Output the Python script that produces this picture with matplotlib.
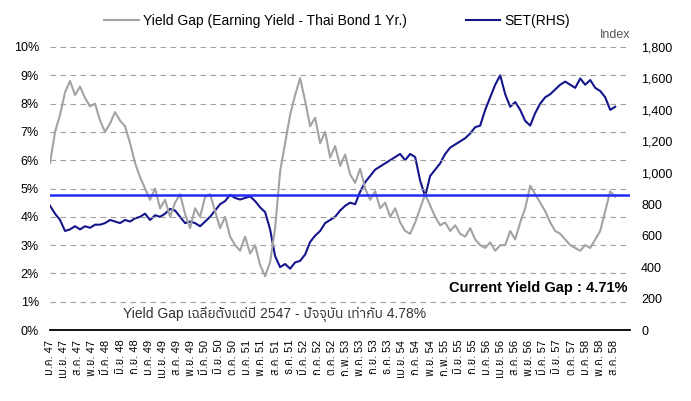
import numpy as np
import matplotlib
import matplotlib.pyplot as plt
from matplotlib import font_manager
from matplotlib.ft2font import FT2Font

# look for any installed font that has Thai glyphs
thai_fonts = []
for f in font_manager.fontManager.ttflist:
    try:
        if 0x0E01 in FT2Font(f.fname).get_charmap():
            thai_fonts.append(f.name)
    except Exception:
        pass
fams = ['Liberation Sans'] + sorted(set(thai_fonts)) + ['DejaVu Sans']
plt.rcParams['font.family'] = fams

#%% data (x = months since Jan 2004, one sample every ~1.24 months)
step = 1.2376
yield_gap = [5.9, 7.0, 7.6, 8.4, 8.8, 8.3, 8.6, 8.2, 7.9, 8.0,
             7.4, 7.0, 7.3, 7.7, 7.4, 7.2, 6.6, 5.9, 5.4, 5.0,
             4.6, 5.0, 4.3, 4.6, 4.0, 4.5, 4.8, 4.1, 3.6, 4.3,
             4.0, 4.7, 4.8, 4.2, 3.6, 4.0, 3.3, 3.0, 2.8, 3.3,
             2.7, 3.0, 2.3, 1.9, 2.4, 3.6, 5.6, 6.6, 7.6, 8.3,
             8.9, 8.1, 7.2, 7.5, 6.6, 7.0, 6.1, 6.5, 5.8, 6.2,
             5.5, 5.2, 5.7, 5.0, 4.6, 4.9, 4.3, 4.5, 4.0, 4.3,
             3.8, 3.5, 3.4, 3.8, 4.3, 4.8, 4.4, 4.0, 3.7, 3.8,
             3.5, 3.7, 3.4, 3.3, 3.6, 3.2, 3.0, 2.9, 3.1, 2.8,
             3.0, 3.0, 3.5, 3.2, 3.8, 4.3, 5.1, 4.8, 4.5, 4.2,
             3.8, 3.5, 3.4, 3.2, 3.0, 2.9, 2.8, 3.0, 2.9, 3.2,
             3.5, 4.2, 4.9, 4.71]
set_index = [790, 740, 700, 630, 640, 660, 640, 660, 650, 670,
             670, 680, 700, 690, 680, 700, 690, 710, 720, 740,
             700, 730, 720, 740, 770, 760, 720, 680, 690, 680,
             660, 690, 720, 760, 800, 820, 860, 840, 830, 840,
             850, 820, 780, 750, 640, 470, 400, 420, 390, 430,
             440, 480, 560, 600, 630, 680, 700, 720, 760, 790,
             810, 800, 880, 940, 980, 1020, 1040, 1060, 1080, 1100,
             1120, 1080, 1120, 1100, 950, 850, 980, 1020, 1060, 1120,
             1160, 1180, 1200, 1220, 1250, 1290, 1300, 1400, 1480, 1560,
             1620, 1500, 1420, 1450, 1400, 1330, 1300, 1380, 1440, 1480,
             1500, 1530, 1560, 1580, 1560, 1540, 1600, 1560, 1590, 1540,
             1520, 1480, 1400, 1420]

avg_gap = 4.78
current_gap = 4.71

tick_labels = ['ม.ค. 47', 'เม.ย. 47', 'ส.ค. 47', 'พ.ย. 47',
               'มี.ค. 48', 'มิ.ย. 48', 'ก.ย. 48',
               'ม.ค. 49', 'เม.ย. 49', 'ส.ค. 49', 'พ.ย. 49',
               'มี.ค. 50', 'มิ.ย. 50', 'ต.ค. 50',
               'ม.ค. 51', 'พ.ค. 51', 'ส.ค. 51', 'ธ.ค. 51',
               'มี.ค. 52', 'ก.ค. 52', 'ต.ค. 52',
               'ก.พ. 53', 'พ.ค. 53', 'ก.ย. 53', 'ธ.ค. 53',
               'เม.ย. 54', 'ก.ค. 54', 'พ.ย. 54',
               'ก.พ. 55', 'มิ.ย. 55', 'ก.ย. 55',
               'ม.ค. 56', 'เม.ย. 56', 'ส.ค. 56', 'พ.ย. 56',
               'มี.ค. 57', 'มิ.ย. 57', 'ต.ค. 57',
               'ม.ค. 58', 'พ.ค. 58', 'ส.ค. 58']

#%%
x = np.arange(len(yield_gap)) * step

fig = plt.figure(figsize=(6.91, 4.01), dpi=100)
ax = fig.add_axes([0.0724, 0.177, 0.8393, 0.7058])
ax2 = ax.twinx()
ax.set_zorder(ax2.get_zorder() + 1)
ax.patch.set_visible(False)

gray = '#a3a3a3'
navy = '#14148c'

l1, = ax.plot(x, yield_gap, color=gray, lw=1.5)
l2, = ax2.plot(x, set_index, color=navy, lw=1.5)
ax.axhline(avg_gap, color='#1f2bff', lw=1.8)

ax.set_ylim(0, 10)
ax2.set_ylim(0, 1800)
ax.set_xlim(0, 143.5)
ax.set_yticks(range(0, 11))
ax.set_yticklabels(['%d%%' % v for v in range(0, 11)])
ax2.set_yticks(range(0, 1801, 200))
ax2.set_yticklabels(['{:,}'.format(v) for v in range(0, 1801, 200)])

ax.set_xticks(np.arange(len(tick_labels)) * 139.5 / 40)
ax.set_xticklabels(tick_labels, rotation=90, fontsize=8)

ax.yaxis.grid(True, ls=(0, (5, 4)), color='#a0a0a0', lw=0.8)
ax.set_axisbelow(True)
for a in (ax, ax2):
    for s in a.spines.values():
        s.set_visible(False)
    a.tick_params(length=0, labelsize=9)
ax.spines['bottom'].set_visible(True)
ax.spines['bottom'].set_linewidth(1.3)
ax.tick_params(axis='y', pad=8)
ax2.tick_params(axis='y', pad=8)
ax.tick_params(axis='x', pad=7, labelsize=8)

ax2.text(1.0, 1.02, 'Index', transform=ax2.transAxes, ha='right', va='bottom',
         fontsize=9, color='#555555')
ax.text(0.995, 0.147, 'Current Yield Gap : 4.71%', transform=ax.transAxes,
        ha='right', va='center', fontsize=10.5, fontweight='bold')
ax.text(0.126, 0.055, 'Yield Gap เฉลี่ยตั้งแต่ปี 2547 - ปัจจุบัน เท่ากับ 4.78%',
        transform=ax.transAxes, ha='left', va='center', fontsize=10, color='#333333')

fig.legend([l1, l2], ['Yield Gap (Earning Yield - Thai Bond 1 Yr.)', 'SET(RHS)'],
           loc='center left', bbox_to_anchor=(0.133, 0.947), ncol=2, frameon=False,
           fontsize=10, handlelength=2.5, handletextpad=0.3, columnspacing=4.2)

fig.savefig('out.png', dpi=100)
